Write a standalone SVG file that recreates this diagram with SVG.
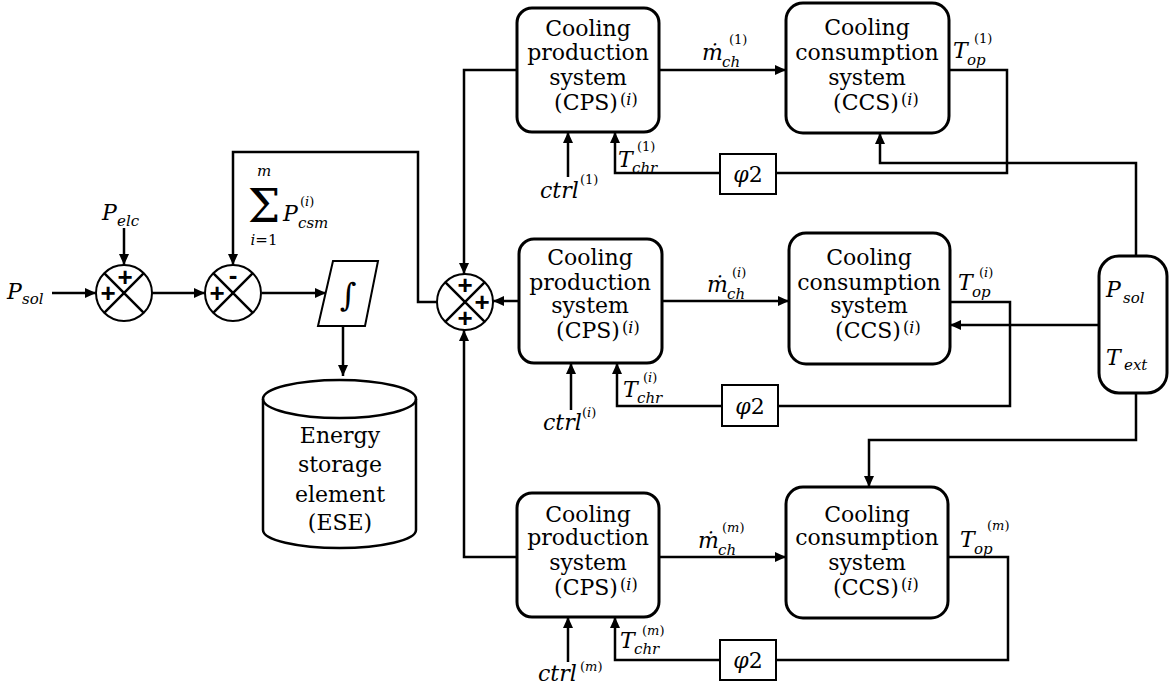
<svg xmlns="http://www.w3.org/2000/svg" width="1169" height="690" viewBox="0 0 1169 690">
<style>
.bx{fill:#fff;stroke:#000;stroke-width:3}
.ln{fill:none;stroke:#000;stroke-width:2.5}
.thin{fill:#fff;stroke:#000;stroke-width:2}
.t{font-size:22px;text-anchor:middle;fill:#000}
.mi{font-style:italic;font-size:22px;fill:#000}
.sb{font-style:italic;font-size:15px;fill:#000}
.sp{font-size:13px;fill:#000}
.bs{font-size:16px;fill:#000}
.pl{font-family:'Liberation Sans',Arial,sans-serif;font-weight:bold;font-size:26px;text-anchor:middle;fill:#000}
</style>
<defs>
<marker id="ah" markerWidth="11" markerHeight="10" refX="11" refY="5" orient="auto" markerUnits="userSpaceOnUse">
<path d="M0,0 L11,5 L0,10 z" fill="#000"/>
</marker>
</defs>

<g id="connectors">
<path class="ln" d="M52,293 H96" marker-end="url(#ah)"/>
<path class="ln" d="M124,228 V265" marker-end="url(#ah)"/>
<path class="ln" d="M152,293 H205" marker-end="url(#ah)"/>
<path class="ln" d="M262,293 H326" marker-end="url(#ah)"/>
<path class="ln" d="M437,302 H418 V152 H233 V265" marker-end="url(#ah)"/>
<path class="ln" d="M343,327 V376" marker-end="url(#ah)"/>
<path class="ln" d="M517,70 H464 V274" marker-end="url(#ah)"/>
<path class="ln" d="M519,301 H493" marker-end="url(#ah)"/>
<path class="ln" d="M517,557 H464 V330" marker-end="url(#ah)"/>
<path class="ln" d="M659,70 H786" marker-end="url(#ah)"/>
<path class="ln" d="M568,177 V132" marker-end="url(#ah)"/>
<path class="ln" d="M720,173 H615 V132" marker-end="url(#ah)"/>
<path class="ln" d="M776,173 H1007 V70 H949"/>
<path class="ln" d="M1136,256 V163 H880 V133" marker-end="url(#ah)"/>
<path class="ln" d="M662,301 H789" marker-end="url(#ah)"/>
<path class="ln" d="M571,410 V363" marker-end="url(#ah)"/>
<path class="ln" d="M722,406 H617 V363" marker-end="url(#ah)"/>
<path class="ln" d="M778,406 H1010 V302 H950"/>
<path class="ln" d="M1099,325 H950" marker-end="url(#ah)"/>
<path class="ln" d="M659,557 H786" marker-end="url(#ah)"/>
<path class="ln" d="M568,662 V617" marker-end="url(#ah)"/>
<path class="ln" d="M720,660 H615 V617" marker-end="url(#ah)"/>
<path class="ln" d="M776,660 H1008 V557 H948"/>
<path class="ln" d="M1136,393 V440 H869 V487" marker-end="url(#ah)"/>
</g>

<g id="sum1">
<circle class="thin" cx="124" cy="293" r="28"/>
<path class="ln" stroke-width="2" d="M104.2,273.2 L143.8,312.8 M143.8,273.2 L104.2,312.8"/>
<text class="pl" x="125" y="286">+</text>
<text class="pl" x="108" y="302">+</text>
</g>
<g id="sum2">
<circle class="thin" cx="233" cy="293" r="28"/>
<path class="ln" stroke-width="2" d="M213.2,273.2 L252.8,312.8 M252.8,273.2 L213.2,312.8"/>
<text class="pl" x="233" y="284">-</text>
<text class="pl" x="217" y="302">+</text>
</g>
<g id="sum3">
<circle class="thin" cx="465" cy="302" r="28"/>
<path class="ln" stroke-width="2" d="M445.2,282.2 L484.8,321.8 M484.8,282.2 L445.2,321.8"/>
<text class="pl" x="465" y="294">+</text>
<text class="pl" x="482" y="311">+</text>
<text class="pl" x="465" y="327">+</text>
</g>

<g font-family="'DejaVu Serif', serif">
<g id="integrator">
<path class="thin" d="M333,261 H378 L365,326 H318 Z"/>
<text x="348" y="306" font-style="italic" font-size="32" text-anchor="middle">∫</text>
</g>

<g id="ese">
<path class="ln" d="M263,399 V530 A76.5,18 0 0 0 416,530 V399"/>
<ellipse class="ln" cx="339.5" cy="399" rx="76.5" ry="19"/>
<text class="t" font-size="26" x="340" y="443">Energy</text>
<text class="t" font-size="26" x="340" y="472">storage</text>
<text class="t" font-size="26" x="340" y="502">element</text>
<text class="t" font-size="26" x="340" y="530">(ESE)</text>
</g>

<g id="psum">
<text x="264" y="222" font-size="46" text-anchor="middle">Σ</text>
<text class="sb" x="264" y="176" text-anchor="middle" font-size="14">m</text>
<text class="sb" x="264" y="245" text-anchor="middle" font-size="14">i<tspan font-style="normal">=1</tspan></text>
<text class="mi" x="283" y="221" font-size="24">P</text>
<text class="sb" x="298" y="228" font-size="16">csm</text>
<text class="sp" x="300" y="206" font-size="14">(<tspan font-style="italic">i</tspan>)</text>
</g>

<g id="inputs">
<text class="mi" x="7" y="299" font-size="24">P</text><text class="sb" x="22" y="304" font-size="16">sol</text>
<text class="mi" x="102" y="220" font-size="24">P</text><text class="sb" x="117" y="226" font-size="16">elc</text>
</g>

<g id="cps1">
<rect class="bx" x="517" y="8" width="142" height="124" rx="15"/>
<text class="t" x="588" y="36">Cooling</text>
<text class="t" x="588" y="60">production</text>
<text class="t" x="588" y="85">system</text>
<text class="t" x="586" y="110">(CPS)</text>
<text class="bs" x="620" y="105">(<tspan font-style="italic">i</tspan>)</text>
</g>
<g id="ccs1">
<rect class="bx" x="786" y="3" width="163" height="130" rx="17"/>
<text class="t" x="867" y="35">Cooling</text>
<text class="t" x="867" y="60">consumption</text>
<text class="t" x="867" y="85">system</text>
<text class="t" x="866" y="110">(CCS)</text>
<text class="bs" x="901" y="105">(<tspan font-style="italic">i</tspan>)</text>
</g>
<g id="cps2">
<rect class="bx" x="519" y="239" width="143" height="124" rx="15"/>
<text class="t" x="590" y="265">Cooling</text>
<text class="t" x="590" y="290">production</text>
<text class="t" x="590" y="313">system</text>
<text class="t" x="588" y="338">(CPS)</text>
<text class="bs" x="622" y="333">(<tspan font-style="italic">i</tspan>)</text>
</g>
<g id="ccs2">
<rect class="bx" x="789" y="233" width="161" height="131" rx="17"/>
<text class="t" x="869" y="265">Cooling</text>
<text class="t" x="869" y="290">consumption</text>
<text class="t" x="869" y="313">system</text>
<text class="t" x="868" y="338">(CCS)</text>
<text class="bs" x="903" y="333">(<tspan font-style="italic">i</tspan>)</text>
</g>
<g id="cps3">
<rect class="bx" x="517" y="493" width="142" height="124" rx="15"/>
<text class="t" x="588" y="522">Cooling</text>
<text class="t" x="588" y="545">production</text>
<text class="t" x="588" y="570">system</text>
<text class="t" x="586" y="595">(CPS)</text>
<text class="bs" x="620" y="590">(<tspan font-style="italic">i</tspan>)</text>
</g>
<g id="ccs3">
<rect class="bx" x="786" y="487" width="162" height="131" rx="17"/>
<text class="t" x="867" y="522">Cooling</text>
<text class="t" x="867" y="545">consumption</text>
<text class="t" x="867" y="570">system</text>
<text class="t" x="866" y="595">(CCS)</text>
<text class="bs" x="901" y="590">(<tspan font-style="italic">i</tspan>)</text>
</g>

<g id="phi1"><rect class="thin" x="720" y="154" width="56" height="40"/><text class="mi" x="748" y="182" font-size="25" text-anchor="middle">φ<tspan font-style="normal">2</tspan></text></g>
<g id="phi2"><rect class="thin" x="722" y="385" width="56" height="41"/><text class="mi" x="750" y="414" font-size="25" text-anchor="middle">φ<tspan font-style="normal">2</tspan></text></g>
<g id="phi3"><rect class="thin" x="720" y="640" width="56" height="40"/><text class="mi" x="748" y="668" font-size="25" text-anchor="middle">φ<tspan font-style="normal">2</tspan></text></g>

<g id="ext">
<rect class="bx" x="1099" y="256" width="68" height="137" rx="20"/>
<text class="mi" x="1106" y="297" font-size="28">P</text><text class="sb" x="1123" y="303" font-size="19">sol</text>
<text class="mi" x="1106" y="365" font-size="28">T</text><text class="sb" x="1124" y="370" font-size="19">ext</text>
</g>

<g id="labels">
<text class="mi" x="702" y="60">ṁ</text><text class="sb" x="722" y="67">ch</text><text class="sp" x="729" y="44">(1)</text>
<text class="mi" x="953" y="58">T</text><text class="sb" x="967" y="65">op</text><text class="sp" x="974" y="43">(1)</text>
<text class="mi" x="618" y="167">T</text><text class="sb" x="632" y="173">chr</text><text class="sp" x="637" y="151">(1)</text>
<text class="mi" x="540" y="198">ctrl</text><text class="sp" x="580" y="184">(1)</text>

<text class="mi" x="707" y="292">ṁ</text><text class="sb" x="727" y="299">ch</text><text class="sp" x="732" y="277">(<tspan font-style="italic">i</tspan>)</text>
<text class="mi" x="958" y="290">T</text><text class="sb" x="972" y="297">op</text><text class="sp" x="979" y="277">(<tspan font-style="italic">i</tspan>)</text>
<text class="mi" x="623" y="397">T</text><text class="sb" x="637" y="403">chr</text><text class="sp" x="643" y="382">(<tspan font-style="italic">i</tspan>)</text>
<text class="mi" x="543" y="430">ctrl</text><text class="sp" x="582" y="417">(<tspan font-style="italic">i</tspan>)</text>

<text class="mi" x="698" y="548">ṁ</text><text class="sb" x="718" y="555">ch</text><text class="sp" x="722" y="532">(<tspan font-style="italic">m</tspan>)</text>
<text class="mi" x="960" y="547">T</text><text class="sb" x="974" y="554">op</text><text class="sp" x="987" y="530">(<tspan font-style="italic">m</tspan>)</text>
<text class="mi" x="620" y="648">T</text><text class="sb" x="634" y="654">chr</text><text class="sp" x="642" y="635">(<tspan font-style="italic">m</tspan>)</text>
<text class="mi" x="538" y="681">ctrl</text><text class="sp" x="580" y="671">(<tspan font-style="italic">m</tspan>)</text>
</g>
</g>
</svg>
